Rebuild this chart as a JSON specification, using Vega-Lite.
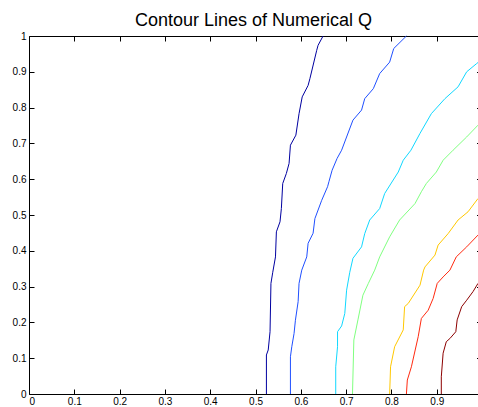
{
  "$schema": "https://vega.github.io/schema/vega-lite/v6.json",
  "autosize": {"type": "none"},
  "padding": {"left": 29, "top": 36, "right": 0, "bottom": 13},
  "width": 449,
  "height": 358,
  "background": "white",
  "title": {"text": "Contour Lines of Numerical Q", "font": "Liberation Sans", "fontSize": 18, "fontWeight": "normal", "color": "#000000", "anchor": "middle", "frame": "group", "baseline": "alphabetic", "offset": -13},
  "config": {
    "view": {"stroke": null},
    "axis": {"grid": false, "domainColor": "#000000", "domainWidth": 1, "tickColor": "#000000", "tickWidth": 1, "labelFont": "Liberation Sans", "labelFontSize": 10, "labelColor": "#000000", "title": null}
  },
  "data": {"values": [
    {"k": "L1", "x": 0.524, "y": 0}, {"k": "L1", "x": 0.524, "y": 0.109}, {"k": "L1", "x": 0.528, "y": 0.123}, {"k": "L1", "x": 0.532, "y": 0.174}, {"k": "L1", "x": 0.534, "y": 0.309}, {"k": "L1", "x": 0.538, "y": 0.34}, {"k": "L1", "x": 0.544, "y": 0.383}, {"k": "L1", "x": 0.546, "y": 0.453}, {"k": "L1", "x": 0.554, "y": 0.481}, {"k": "L1", "x": 0.557, "y": 0.518}, {"k": "L1", "x": 0.56, "y": 0.588}, {"k": "L1", "x": 0.568, "y": 0.616}, {"k": "L1", "x": 0.574, "y": 0.644}, {"k": "L1", "x": 0.577, "y": 0.695}, {"k": "L1", "x": 0.589, "y": 0.723}, {"k": "L1", "x": 0.596, "y": 0.783}, {"k": "L1", "x": 0.603, "y": 0.83}, {"k": "L1", "x": 0.616, "y": 0.862}, {"k": "L1", "x": 0.62, "y": 0.881}, {"k": "L1", "x": 0.635, "y": 0.96}, {"k": "L1", "x": 0.638, "y": 0.974}, {"k": "L1", "x": 0.649, "y": 1.0},
    {"k": "L2", "x": 0.577, "y": 0}, {"k": "L2", "x": 0.577, "y": 0.104}, {"k": "L2", "x": 0.58, "y": 0.132}, {"k": "L2", "x": 0.585, "y": 0.169}, {"k": "L2", "x": 0.588, "y": 0.206}, {"k": "L2", "x": 0.594, "y": 0.258}, {"k": "L2", "x": 0.596, "y": 0.309}, {"k": "L2", "x": 0.602, "y": 0.346}, {"k": "L2", "x": 0.613, "y": 0.383}, {"k": "L2", "x": 0.616, "y": 0.421}, {"k": "L2", "x": 0.627, "y": 0.449}, {"k": "L2", "x": 0.631, "y": 0.49}, {"k": "L2", "x": 0.646, "y": 0.541}, {"k": "L2", "x": 0.659, "y": 0.579}, {"k": "L2", "x": 0.662, "y": 0.593}, {"k": "L2", "x": 0.669, "y": 0.625}, {"k": "L2", "x": 0.68, "y": 0.658}, {"k": "L2", "x": 0.69, "y": 0.681}, {"k": "L2", "x": 0.715, "y": 0.765}, {"k": "L2", "x": 0.734, "y": 0.793}, {"k": "L2", "x": 0.741, "y": 0.825}, {"k": "L2", "x": 0.76, "y": 0.853}, {"k": "L2", "x": 0.774, "y": 0.895}, {"k": "L2", "x": 0.796, "y": 0.927}, {"k": "L2", "x": 0.805, "y": 0.965}, {"k": "L2", "x": 0.833, "y": 1.0},
    {"k": "L3", "x": 0.677, "y": 0}, {"k": "L3", "x": 0.677, "y": 0.076}, {"k": "L3", "x": 0.681, "y": 0.132}, {"k": "L3", "x": 0.681, "y": 0.174}, {"k": "L3", "x": 0.69, "y": 0.19}, {"k": "L3", "x": 0.697, "y": 0.225}, {"k": "L3", "x": 0.701, "y": 0.29}, {"k": "L3", "x": 0.708, "y": 0.34}, {"k": "L3", "x": 0.715, "y": 0.379}, {"k": "L3", "x": 0.734, "y": 0.411}, {"k": "L3", "x": 0.741, "y": 0.448}, {"k": "L3", "x": 0.752, "y": 0.486}, {"k": "L3", "x": 0.774, "y": 0.518}, {"k": "L3", "x": 0.785, "y": 0.56}, {"k": "L3", "x": 0.815, "y": 0.62}, {"k": "L3", "x": 0.826, "y": 0.653}, {"k": "L3", "x": 0.843, "y": 0.681}, {"k": "L3", "x": 0.863, "y": 0.728}, {"k": "L3", "x": 0.888, "y": 0.783}, {"k": "L3", "x": 0.918, "y": 0.825}, {"k": "L3", "x": 0.947, "y": 0.858}, {"k": "L3", "x": 0.966, "y": 0.9}, {"k": "L3", "x": 0.988, "y": 0.923}, {"k": "L3", "x": 0.991, "y": 0.926},
    {"k": "L4", "x": 0.714, "y": 0}, {"k": "L4", "x": 0.717, "y": 0.151}, {"k": "L4", "x": 0.726, "y": 0.207}, {"k": "L4", "x": 0.737, "y": 0.276}, {"k": "L4", "x": 0.749, "y": 0.309}, {"k": "L4", "x": 0.763, "y": 0.346}, {"k": "L4", "x": 0.774, "y": 0.383}, {"k": "L4", "x": 0.796, "y": 0.439}, {"k": "L4", "x": 0.818, "y": 0.486}, {"k": "L4", "x": 0.852, "y": 0.532}, {"k": "L4", "x": 0.866, "y": 0.565}, {"k": "L4", "x": 0.877, "y": 0.588}, {"k": "L4", "x": 0.899, "y": 0.62}, {"k": "L4", "x": 0.914, "y": 0.653}, {"k": "L4", "x": 0.936, "y": 0.681}, {"k": "L4", "x": 0.966, "y": 0.718}, {"k": "L4", "x": 0.991, "y": 0.751},
    {"k": "L5", "x": 0.796, "y": 0}, {"k": "L5", "x": 0.798, "y": 0.076}, {"k": "L5", "x": 0.807, "y": 0.132}, {"k": "L5", "x": 0.826, "y": 0.179}, {"k": "L5", "x": 0.829, "y": 0.244}, {"k": "L5", "x": 0.837, "y": 0.253}, {"k": "L5", "x": 0.863, "y": 0.304}, {"k": "L5", "x": 0.871, "y": 0.346}, {"k": "L5", "x": 0.874, "y": 0.355}, {"k": "L5", "x": 0.896, "y": 0.388}, {"k": "L5", "x": 0.903, "y": 0.416}, {"k": "L5", "x": 0.925, "y": 0.448}, {"k": "L5", "x": 0.947, "y": 0.486}, {"k": "L5", "x": 0.969, "y": 0.509}, {"k": "L5", "x": 0.991, "y": 0.546},
    {"k": "L6", "x": 0.833, "y": 0}, {"k": "L6", "x": 0.835, "y": 0.039}, {"k": "L6", "x": 0.844, "y": 0.076}, {"k": "L6", "x": 0.859, "y": 0.16}, {"k": "L6", "x": 0.866, "y": 0.211}, {"k": "L6", "x": 0.881, "y": 0.234}, {"k": "L6", "x": 0.892, "y": 0.267}, {"k": "L6", "x": 0.901, "y": 0.309}, {"k": "L6", "x": 0.914, "y": 0.327}, {"k": "L6", "x": 0.929, "y": 0.346}, {"k": "L6", "x": 0.943, "y": 0.383}, {"k": "L6", "x": 0.966, "y": 0.411}, {"k": "L6", "x": 0.991, "y": 0.444},
    {"k": "L7", "x": 0.91, "y": 0}, {"k": "L7", "x": 0.91, "y": 0.048}, {"k": "L7", "x": 0.914, "y": 0.114}, {"k": "L7", "x": 0.921, "y": 0.146}, {"k": "L7", "x": 0.929, "y": 0.155}, {"k": "L7", "x": 0.942, "y": 0.174}, {"k": "L7", "x": 0.945, "y": 0.207}, {"k": "L7", "x": 0.955, "y": 0.244}, {"k": "L7", "x": 0.966, "y": 0.262}, {"k": "L7", "x": 0.98, "y": 0.286}, {"k": "L7", "x": 0.991, "y": 0.309}
  ]},
  "encoding": {
    "x": {"field": "x", "type": "quantitative", "scale": {"domain": [0, 0.991], "nice": false, "zero": false}},
    "y": {"field": "y", "type": "quantitative", "scale": {"domain": [0, 1], "nice": false}},
    "order": {"field": "y", "type": "quantitative"},
    "detail": {"field": "k", "type": "nominal"}
  },
  "layer": [
    {
      "mark": {"type": "line", "strokeWidth": 1},
      "encoding": {
        "x": {"field": "x", "type": "quantitative", "axis": {"orient": "bottom", "values": [0, 0.1, 0.2, 0.3, 0.4, 0.5, 0.6, 0.7, 0.8, 0.9], "format": "~g", "tickSize": -5, "labelPadding": 7, "domain": true}},
        "y": {"field": "y", "type": "quantitative", "axis": {"orient": "left", "values": [0, 0.1, 0.2, 0.3, 0.4, 0.5, 0.6, 0.7, 0.8, 0.9, 1], "format": "~g", "tickSize": -5, "labelPadding": 8, "domain": true}},
        "color": {"field": "k", "type": "nominal", "legend": null, "scale": {"domain": ["L1", "L2", "L3", "L4", "L5", "L6", "L7"], "range": ["#0000A0", "#1F4FFF", "#10D8FF", "#80FF80", "#FFC800", "#FF2A10", "#8C0000"]}}
      }
    },
    {
      "mark": {"type": "line", "strokeOpacity": 0},
      "encoding": {
        "x": {"field": "x", "type": "quantitative", "axis": {"orient": "top", "values": [0, 0.1, 0.2, 0.3, 0.4, 0.5, 0.6, 0.7, 0.8, 0.9], "labels": false, "tickSize": -5, "domain": true}},
        "y": {"field": "y", "type": "quantitative", "axis": {"orient": "right", "values": [0, 0.1, 0.2, 0.3, 0.4, 0.5, 0.6, 0.7, 0.8, 0.9, 1], "labels": false, "tickSize": -1.5, "domain": false}}
      }
    }
  ],
  "resolve": {"axis": {"x": "independent", "y": "independent"}}
}
